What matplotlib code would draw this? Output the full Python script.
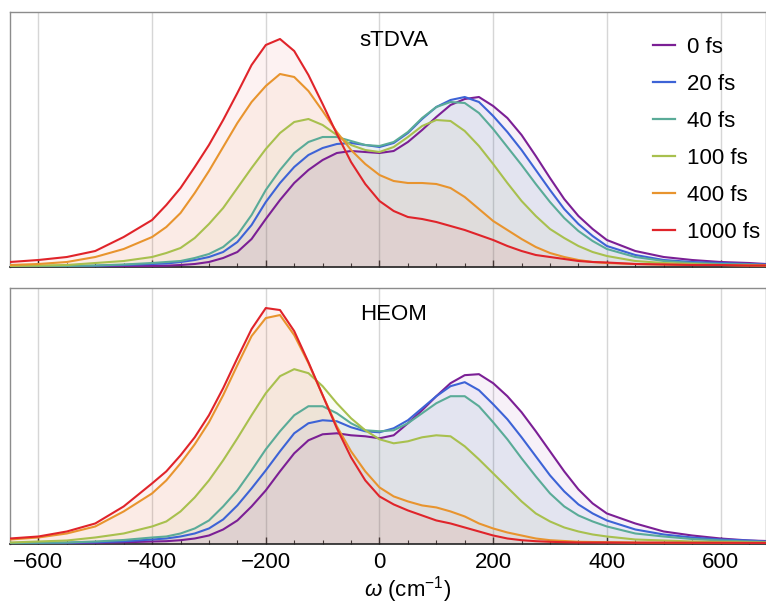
import matplotlib
matplotlib.use("Agg")
import matplotlib.pyplot as plt
from matplotlib.ticker import MultipleLocator
from matplotlib.lines import Line2D

plt.rcParams['font.family'] = ['Liberation Sans', 'DejaVu Sans']
plt.rcParams['mathtext.fontset'] = 'custom'
plt.rcParams['mathtext.rm'] = 'Liberation Sans'
plt.rcParams['mathtext.it'] = 'Liberation Sans:italic'

omega = [-650, -600, -550, -500, -450, -400, -375, -350, -325, -300, -275, -250, -225,
         -200, -175, -150, -125, -100, -75, -50, -25, 0, 25, 50, 75, 100, 125, 150, 175,
         200, 225, 250, 275, 300, 325, 350, 375, 400, 450, 500, 550, 600, 650, 680]

labels = ["0 fs", "20 fs", "40 fs", "100 fs", "400 fs", "1000 fs"]
colors = ["#7b1f95", "#3d63d6", "#5aab98", "#a8c04e", "#e8942e", "#e0242a"]

# sTDVA (arbitrary units)
stdva_0 = [0.3, 0.4, 0.5, 0.6, 0.8, 1.0, 1.3, 2, 3, 5, 9, 15, 28,
           48, 67, 84, 97, 107, 114, 116, 115, 114, 116, 125, 137, 150, 162, 168, 170,
           161, 149, 132, 111, 89, 68, 51, 38, 27, 16, 10, 7, 5, 4, 3]
stdva_20 = [0.5, 0.7, 1, 1.2, 2, 3, 3.5, 5, 7, 10, 15, 25, 42,
            65, 84, 100, 112, 119, 123, 124, 122, 120, 124, 134, 148, 160, 167, 170, 165,
            151, 135, 117, 97, 77, 58, 43, 31, 21, 12, 7, 5, 4, 3, 2.5]
stdva_40 = [0.5, 1, 1, 1.5, 2.5, 4, 5, 6, 9, 13, 20, 32, 52,
            77, 97, 114, 125, 130, 130, 126, 122, 121, 125, 135, 149, 160, 165, 164, 154,
            138, 120, 102, 83, 65, 49, 36, 26, 18, 10, 6, 4, 3, 2.5, 2]
stdva_100 = [1, 1.5, 2, 4, 6, 10, 14, 19, 29, 43, 59, 79, 99,
             118, 134, 145, 148, 142, 132, 122, 117, 115, 120, 130, 141, 147, 146, 136, 121,
             103, 84, 66, 51, 38, 29, 21, 15, 11, 6, 4, 3, 2, 2, 1.5]
stdva_400 = [2, 3, 5, 10, 18, 30, 40, 54, 74, 96, 120, 144, 165,
             181, 193, 190, 176, 156, 135, 117, 103, 92, 86, 84, 84, 83, 79, 70, 58,
             46, 37, 28, 20, 14, 10, 7, 5, 4, 3, 2.5, 2, 2, 1.5, 1.5]
stdva_1000 = [5, 7, 10, 16, 30, 47, 62, 79, 100, 122, 147, 174, 202,
              222, 228, 216, 192, 163, 133, 105, 83, 66, 56, 50, 48, 45, 41, 37, 32,
              27, 21, 16, 12, 10, 8, 6, 5, 4.5, 3, 2.5, 2, 2, 1.5, 1.5]

# HEOM (arbitrary units)
heom_0 = [0.2, 0.3, 0.4, 0.7, 1.2, 2, 2.3, 3.3, 5, 8, 14, 23, 37,
          53, 72, 90, 103, 109, 110, 108, 107, 105, 108, 120, 133, 147, 160, 168, 169,
          160, 147, 131, 112, 92, 72, 54, 40, 30, 20, 12, 8, 5, 3, 2.5]
heom_20 = [0.3, 0.5, 0.8, 1.2, 2.2, 4, 5, 7, 10, 15, 24, 38, 55,
           73, 92, 110, 120, 123, 122, 116, 112, 111, 115, 123, 135, 147, 157, 161, 153,
           139, 124, 106, 87, 68, 52, 39, 30, 23, 14, 9, 6, 4, 3, 2]
heom_40 = [0.5, 0.8, 1, 2, 3.5, 6, 7, 10, 15, 23, 37, 53, 73,
           94, 112, 128, 137, 137, 130, 120, 113, 112, 113, 120, 130, 140, 147, 147, 137,
           121, 104, 85, 67, 50, 37, 28, 22, 17, 10, 7, 4.5, 3, 2, 1.5]
heom_100 = [1, 2, 3, 6, 10, 17, 22, 32, 46, 63, 83, 105, 128,
            150, 167, 174, 170, 157, 140, 125, 113, 104, 100, 102, 106, 108, 107, 97, 84,
            70, 56, 42, 30, 22, 16, 12, 9, 7, 4, 3, 2, 1.5, 1.2, 1]
heom_400 = [4, 6, 10, 17, 32, 50, 63, 80, 99, 121, 148, 178, 207,
            225, 228, 208, 180, 148, 117, 92, 72, 56, 47, 42, 38, 36, 32, 27, 20,
            15, 11, 8, 5, 3.3, 2.5, 1.7, 1.5, 1.3, 1, 0.8, 0.7, 0.6, 0.5, 0.5]
heom_1000 = [5, 7, 12, 20, 37, 60, 72, 88, 106, 128, 155, 185, 214,
             235, 233, 212, 181, 148, 115, 86, 63, 47, 39, 33, 28, 23, 20, 16, 12,
             8, 5, 3.3, 2.3, 1.7, 1.3, 1, 1, 1, 0.8, 0.8, 0.7, 0.7, 0.6, 0.6]

panels = [
    ("sTDVA", [stdva_0, stdva_20, stdva_40, stdva_100, stdva_400, stdva_1000]),
    ("HEOM", [heom_0, heom_20, heom_40, heom_100, heom_400, heom_1000]),
]

W, H = 766, 604
fig = plt.figure(figsize=(W / 100, H / 100), dpi=100)
ax_top = fig.add_axes([10 / W, 1 - 267 / H, 1 - 10 / W, 255 / H])
ax_bot = fig.add_axes([10 / W, 1 - 543.5 / H, 1 - 10 / W, 255.5 / H])

for ax, (title, series) in zip([ax_top, ax_bot], panels):
    for vals, col in zip(series, colors):
        ax.fill_between(omega, 0, vals, color=col, alpha=0.06, linewidth=0, zorder=1)
    for vals, col in zip(series, colors):
        ax.plot(omega, vals, color=col, lw=1.5, zorder=3,
                solid_joinstyle='round', solid_capstyle='round')
    ax.set_xlim(-650, 680)
    ax.set_ylim(0, 255)
    ax.set_yticks([])
    ax.xaxis.set_major_locator(MultipleLocator(200))
    ax.xaxis.set_minor_locator(MultipleLocator(50))
    ax.tick_params(axis='x', which='major', direction='in', length=5, width=1,
                   color='#222222', labelsize=16, pad=6)
    ax.tick_params(axis='x', which='minor', direction='in', length=3, width=0.8,
                   color='#222222')
    ax.grid(axis='x', which='major', color='#d6d6d6', lw=1, zorder=0)
    for s in ['left', 'top', 'right']:
        ax.spines[s].set_color('#8c8c8c')
        ax.spines[s].set_linewidth(1)
    ax.spines['bottom'].set_color('#222222')
    ax.spines['bottom'].set_linewidth(1.2)
    ax.set_axisbelow(True)

ax_top.tick_params(axis='x', which='both', labelbottom=False)

fig.text(394 / W, 1 - 40 / H, "sTDVA", fontsize=16, ha='center', va='center')
fig.text(394 / W, 1 - 314 / H, "HEOM", fontsize=16, ha='center', va='center')
fig.text(408 / W, 1 - 590 / H, r"$\it{\omega}$ (cm$^{-1}$)", fontsize=16,
         ha='center', va='center')

handles = [Line2D([], [], color=c, lw=1.6) for c in colors]
leg = ax_top.legend(handles, labels, loc='upper right', bbox_to_anchor=(1.01, 0.955),
                    frameon=False, fontsize=16, handlelength=1.0, handletextpad=0.55,
                    labelspacing=0.72, borderaxespad=0.2)

fig.savefig("out.png", dpi=100)
